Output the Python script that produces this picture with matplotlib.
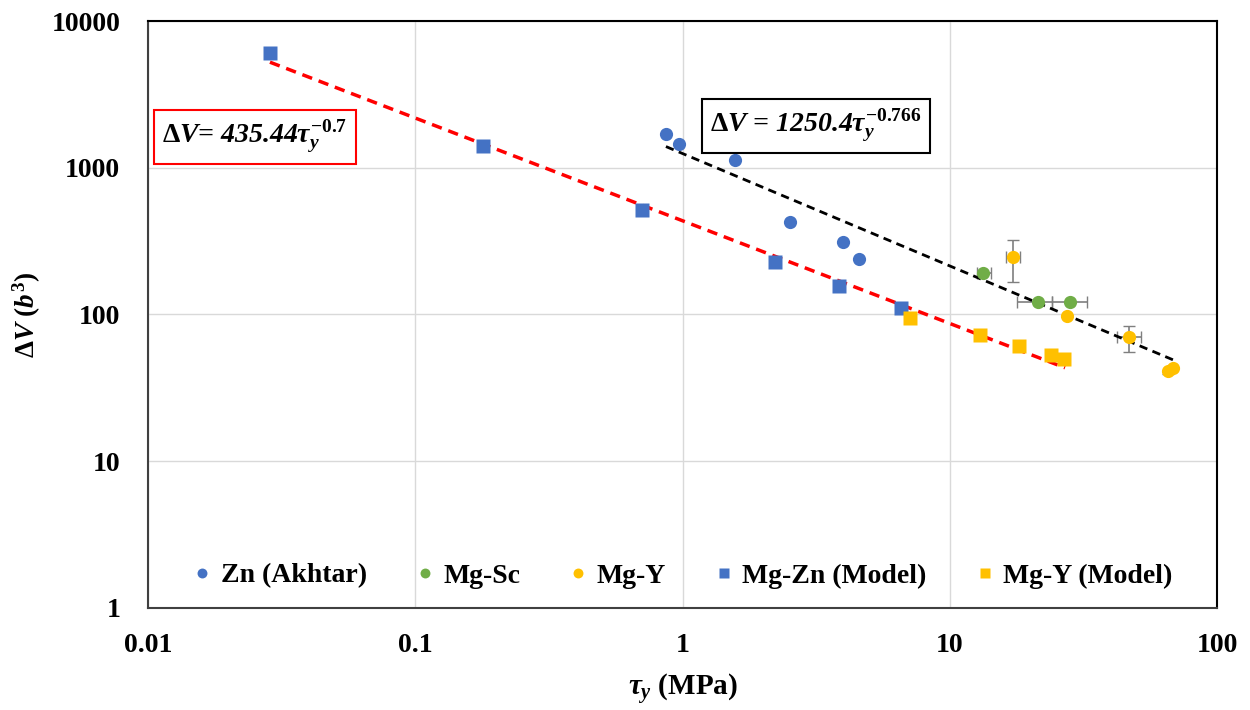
import matplotlib
matplotlib.use("Agg")
import matplotlib.pyplot as plt
import numpy as np

plt.rcParams['font.family'] = ['Liberation Serif', 'DejaVu Serif']
plt.rcParams['font.weight'] = 'bold'
plt.rcParams['mathtext.fontset'] = 'custom'
plt.rcParams['mathtext.rm'] = 'Liberation Serif:bold'
plt.rcParams['mathtext.it'] = 'Liberation Serif:italic:bold'
plt.rcParams['mathtext.bf'] = 'Liberation Serif:bold'

# ---------------- data ----------------
zn_tau = [0.867, 0.97, 1.57, 2.53, 3.99, 4.57]
zn_dv = [1698, 1452, 1129, 427, 312, 239]

mgsc_tau = [13.3, 21.3, 28.2]
mgsc_dv = [193, 122, 122]
mgsc_tau_lo = [12.7, 17.9, 24.1]
mgsc_tau_hi = [14.3, 24.1, 32.5]

mgy_tau = [17.3, 27.4, 47.0, 65.8, 68.2]
mgy_dv = [245, 97.7, 70, 41.4, 43.4]
mgy_tau_lo = [16.3, 27.4, 42.2, 65.8, 68.2]
mgy_tau_hi = [18.3, 27.4, 52.0, 65.8, 68.2]
mgy_dv_lo = [167, 97.7, 55.3, 39.5, 43.4]
mgy_dv_hi = [322, 97.7, 83.5, 41.4, 43.4]

mgzn_tau = [0.0286, 0.179, 0.705, 2.22, 3.85, 6.57]
mgzn_dv = [6050, 1406, 515, 228, 156, 111]

mgym_tau = [7.12, 13.0, 18.2, 23.9, 26.8]
mgym_dv = [95, 72.5, 61, 53, 49.7]

# trendline coefficients (from the equations on the chart)
red_a, red_b = 435.44, -0.7
red_range = [0.0286, 27.0]
blk_a, blk_b = 1250.4, -0.766
blk_range = [0.867, 68.8]

xticks = [0.01, 0.1, 1, 10, 100]
xticklabels = ['0.01', '0.1', '1', '10', '100']
yticks = [1, 10, 100, 1000, 10000]
yticklabels = ['1', '10', '100', '1000', '10000']

c_blue = '#4472C4'
c_green = '#70AD47'
c_yellow = '#FFC000'
c_err = '#7F7F7F'

fig = plt.figure(figsize=(12.5, 7.1), dpi=100)
ax = fig.add_axes([0.1184, 0.1437, 0.8552, 0.8267])
ax.set_xscale('log')
ax.set_yscale('log')
ax.set_xlim(0.01, 100)
ax.set_ylim(1, 10000)

ax.grid(True, which='major', color='#D9D9D9', lw=1.0, zorder=0)
ax.set_axisbelow(True)

# trendlines
xr = np.logspace(np.log10(red_range[0]), np.log10(red_range[1]), 50)
ax.plot(xr, red_a * xr ** red_b, ls=(0, (3, 2)), color='#FF0000', lw=2.5, zorder=4)
xb = np.logspace(np.log10(blk_range[0]), np.log10(blk_range[1]), 50)
ax.plot(xb, blk_a * xb ** blk_b, ls=(0, (3, 2)), color='black', lw=2.0, zorder=4)

# error bars
ms = 9.5
xerr_sc = [np.array(mgsc_tau) - np.array(mgsc_tau_lo), np.array(mgsc_tau_hi) - np.array(mgsc_tau)]
ax.errorbar(mgsc_tau, mgsc_dv, xerr=xerr_sc, fmt='none', ecolor=c_err, elinewidth=1.2, capsize=4, zorder=3)
xerr_y = [np.array(mgy_tau) - np.array(mgy_tau_lo), np.array(mgy_tau_hi) - np.array(mgy_tau)]
yerr_y = [np.array(mgy_dv) - np.array(mgy_dv_lo), np.array(mgy_dv_hi) - np.array(mgy_dv)]
ax.errorbar(mgy_tau, mgy_dv, xerr=xerr_y, yerr=yerr_y, fmt='none', ecolor=c_err, elinewidth=1.2, capsize=4, zorder=3)

ax.plot(zn_tau, zn_dv, 'o', color=c_blue, ms=ms, mec='none', label='Zn (Akhtar)', zorder=5)
ax.plot(mgsc_tau, mgsc_dv, 'o', color=c_green, ms=ms, mec='none', label='Mg-Sc', zorder=5)
ax.plot(mgy_tau, mgy_dv, 'o', color=c_yellow, ms=ms, mec='none', label='Mg-Y', zorder=5)
ax.plot(mgzn_tau, mgzn_dv, 's', color=c_blue, ms=ms, mec='none', label='Mg-Zn (Model)', zorder=5)
ax.plot(mgym_tau, mgym_dv, 's', color=c_yellow, ms=ms, mec='none', label='Mg-Y (Model)', zorder=5)

ax.set_xticks(xticks)
ax.set_xticklabels(xticklabels)
ax.set_yticks(yticks)
ax.set_yticklabels(yticklabels)
ax.minorticks_off()
ax.tick_params(axis='both', length=0, labelsize=20)
ax.tick_params(axis='y', pad=20)
ax.tick_params(axis='x', pad=18)
for lab in ax.get_xticklabels() + ax.get_yticklabels():
    lab.set_fontweight('bold')

for s in ax.spines.values():
    s.set_color('black')
    s.set_linewidth(1.5)
ax.spines['left'].set_color('#404040')
ax.spines['bottom'].set_color('#404040')

ax.set_xlabel(r'$\tau_y$ (MPa)', fontsize=21, fontweight='bold', labelpad=10)
ax.set_ylabel(r'$\mathrm{\Delta}V$ ($b^3$)', fontsize=19.5, fontweight='bold')
ax.yaxis.set_label_coords(-0.098, 0.5)

leg = ax.legend(loc='lower center', ncol=5, frameon=False, fontsize=20,
                markerscale=0.75, handlelength=0.7, handletextpad=0.3, columnspacing=1.75,
                bbox_to_anchor=(0.5, 0.0), borderaxespad=0.3)
for t in leg.get_texts():
    t.set_fontweight('bold')

ax.text(0.0113, 1620, r'$\Delta V$= 435.44$\tau_y^{\mathit{-0.7}}$', fontsize=20, fontweight='bold',
        style='italic', va='center', ha='left',
        bbox=dict(boxstyle='square,pad=0.3', fc='white', ec='#FF0000', lw=1.5), zorder=6)
ax.text(1.27, 1930, r'$\Delta V$ = 1250.4$\tau_y^{\mathit{-0.766}}$', fontsize=20, fontweight='bold',
        style='italic', va='center', ha='left',
        bbox=dict(boxstyle='square,pad=0.3', fc='white', ec='black', lw=1.5), zorder=6)

fig.savefig('out.png', dpi=100)
